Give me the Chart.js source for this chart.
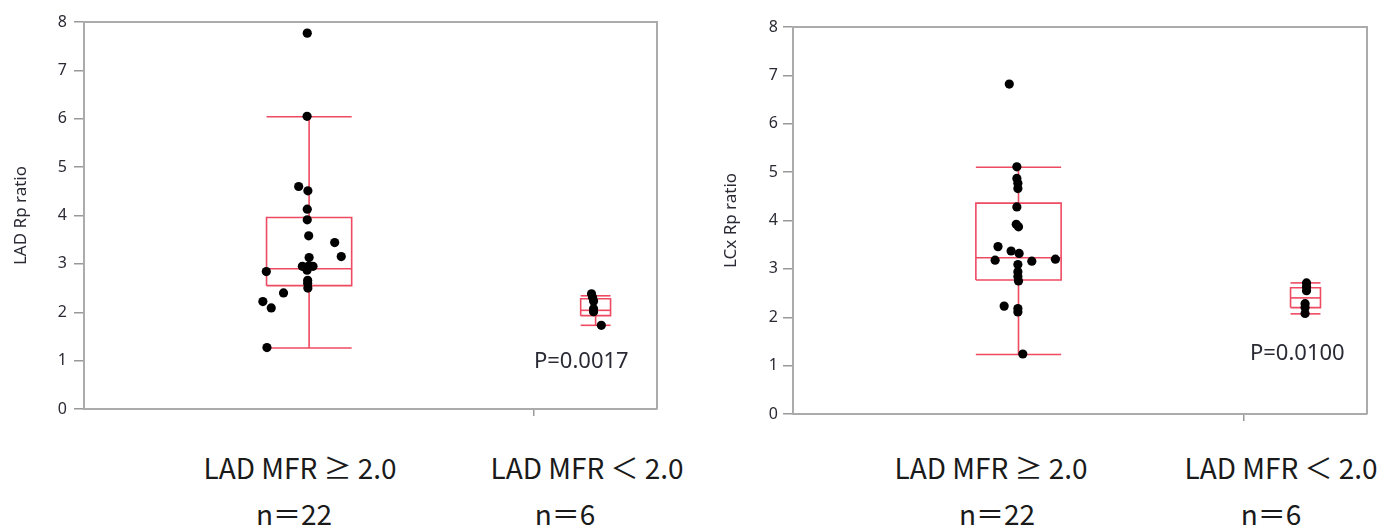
<!DOCTYPE html>
<html><head><meta charset="utf-8">
<script src="https://cdn.jsdelivr.net/npm/chart.js@4/dist/chart.umd.min.js"></script>
<style>
html,body{margin:0;padding:0;background:#fff;}
body{width:1399px;height:528px;position:relative;overflow:hidden;}
#c1{position:absolute;left:0;top:0;}
#c2{position:absolute;left:700px;top:0;}
.lbl{position:absolute;transform:translate(-50%,-50%);font-family:"Noto Sans CJK JP","Noto Sans",sans-serif;font-size:28px;color:#1a1a1a;white-space:nowrap;line-height:1;}
</style></head><body>
<canvas id="c1" width="700" height="430"></canvas>
<canvas id="c2" width="699" height="430"></canvas>
<script>
// ---------- data ----------
const groupLabels = ['LAD MFR ≥ 2.0', 'LAD MFR ＜ 2.0'];
const groupN = [22, 6];
const nLabels = ['n＝22', 'n＝6'];
const yTickValues = [0, 1, 2, 3, 4, 5, 6, 7, 8];

// LAD panel
const ladTitle = 'LAD Rp ratio';
const ladHigh = [7.77, 6.05, 4.60, 4.51, 4.13, 3.91, 3.58, 3.44, 3.15, 3.13, 2.95, 2.96, 2.95, 2.87, 2.84, 2.66, 2.60, 2.50, 2.40, 2.22, 2.09, 1.27];
const ladHighJitter = [-0.09, -0.10, -0.51, -0.06, -0.09, -0.09, -0.02, 1.25, 1.57, 0.00, -0.33, 0.00, 0.19, -0.10, -2.09, -0.07, -0.07, -0.06, -1.25, -2.26, -1.85, -2.06];
const ladLow = [2.38, 2.31, 2.23, 2.07, 2.01, 1.73];
const ladLowJitter = [-0.20, -0.15, -0.10, -0.10, -0.10, 0.28];
// [lower whisker, Q1, median, Q3, upper whisker]
const ladHighBox = [1.26, 2.55, 2.90, 3.96, 6.04];
const ladLowBox = [1.73, 1.93, 2.04, 2.28, 2.34];
const ladP = 'P=0.0017';

// LCx panel
const lcxTitle = 'LCx Rp ratio';
const lcxHigh = [6.82, 5.11, 4.87, 4.77, 4.66, 4.28, 3.92, 3.87, 3.46, 3.37, 3.32, 3.18, 3.16, 3.20, 3.09, 2.94, 2.84, 2.75, 2.23, 2.18, 2.11, 1.24];
const lcxHighJitter = [-0.45, -0.08, -0.08, -0.03, -0.03, -0.08, -0.11, 0.00, -1.00, -0.36, 0.03, -1.14, 0.65, 1.80, -0.03, -0.03, -0.03, 0.00, -0.70, -0.03, -0.03, 0.21];
const lcxLow = [2.71, 2.63, 2.55, 2.28, 2.20, 2.08];
const lcxLowJitter = [0.05, 0.05, 0.05, -0.02, -0.02, -0.02];
const lcxHighBox = [1.23, 2.77, 3.23, 4.36, 5.10];
const lcxLowBox = [2.07, 2.20, 2.40, 2.61, 2.71];
const lcxP = 'P=0.0100';

// ---------- styling / layout ----------
const BOX_HALF = [2.08, 0.73];
const RED = 'rgb(238,74,98)';
const FRAME = '#ababab';

const total = groupN.reduce((a, b) => a + b, 0);
const centers = groupN.map((n, i) => groupN.slice(0, i).reduce((a, b) => a + b, 0) + n / 2);
const divider = groupN[0];

function seg(pts) {
  return {
    type: 'scatter', data: pts, showLine: true, fill: false, tension: 0,
    pointRadius: 0, pointHoverRadius: 0, borderColor: RED, backgroundColor: RED,
    borderWidth: 1.6, order: 1
  };
}
function boxDatasets(stats, c, w) {
  const [lo, q1, med, q3, hi] = stats;
  return [
    seg([{x: c - w, y: q1}, {x: c + w, y: q1}, {x: c + w, y: q3}, {x: c - w, y: q3}, {x: c - w, y: q1}]),
    seg([{x: c - w, y: med}, {x: c + w, y: med}]),
    seg([{x: c, y: q3}, {x: c, y: hi}]),
    seg([{x: c, y: q1}, {x: c, y: lo}]),
    seg([{x: c - w, y: hi}, {x: c + w, y: hi}]),
    seg([{x: c - w, y: lo}, {x: c + w, y: lo}])
  ];
}
function pointDataset(vals, jit, c) {
  return {
    type: 'scatter', data: vals.map((v, i) => ({x: c + jit[i], y: v})),
    pointRadius: 4.6, pointHoverRadius: 4.6, backgroundColor: '#000', borderWidth: 0, order: 0
  };
}

const framePlugin = {
  id: 'frame',
  afterDraw(chart, args, opts) {
    const {ctx, chartArea: a, scales} = chart;
    ctx.save();
    ctx.strokeStyle = FRAME; ctx.lineWidth = 2;
    ctx.beginPath();
    ctx.moveTo(a.left, a.top); ctx.lineTo(a.right, a.top); ctx.lineTo(a.right, a.bottom);
    ctx.stroke();
    ctx.fillStyle = '#2a2a35';
    ctx.font = '22px "Noto Sans", sans-serif';
    ctx.textAlign = 'center'; ctx.textBaseline = 'middle';
    ctx.fillText(opts.text, scales.x.getPixelForValue(opts.x), scales.y.getPixelForValue(opts.y));
    ctx.restore();
  }
};

function makePanel(id, title, hi, hiJ, lo, loJ, hiBox, loBox, pText, pPos, lay) {
  const datasets = [
    pointDataset(hi, hiJ, centers[0]),
    pointDataset(lo, loJ, centers[1]),
    ...boxDatasets(hiBox, centers[0], BOX_HALF[0]),
    ...boxDatasets(loBox, centers[1], BOX_HALF[1])
  ];
  new Chart(document.getElementById(id), {
    type: 'scatter',
    data: {datasets},
    plugins: [framePlugin],
    options: {
      responsive: false, animation: false, events: [],
      layout: {padding: {left: 0, right: lay.right, top: lay.top, bottom: 0}},
      plugins: {legend: {display: false}, tooltip: {enabled: false},
        frame: {text: pText, x: pPos[0], y: pPos[1]}},
      scales: {
        x: {
          type: 'linear', min: 0, max: total,
          afterBuildTicks: s => { s.ticks = [{value: divider}]; },
          afterFit: s => { s.height = lay.xh; },
          ticks: {display: false},
          grid: {drawOnChartArea: false, drawTicks: true, tickLength: 7, color: '#999', lineWidth: 1.5},
          border: {display: true, color: FRAME, width: 2}
        },
        y: {
          type: 'linear', min: 0, max: 8,
          afterBuildTicks: s => { s.ticks = yTickValues.map(v => ({value: v})); },
          afterFit: s => { s.width = lay.yw; },
          ticks: {padding: lay.tp, color: '#2a2a35', font: {family: '"Noto Sans", sans-serif', size: 16}},
          grid: {drawOnChartArea: false, drawTicks: true, tickLength: 10, color: '#999', lineWidth: 1.5},
          border: {display: true, color: FRAME, width: 2},
          title: {display: true, text: title, color: '#2a2a35',
            font: {family: '"Noto Sans", sans-serif', size: 17}, padding: {top: lay.tt, bottom: 0}}
        }
      }
    }
  });
}

makePanel('c1', ladTitle, ladHigh, ladHighJitter, ladLow, ladLowJitter, ladHighBox, ladLowBox,
  ladP, [24.3, 0.98], {right: 43, top: 22, xh: 21, yw: 84, tp: 7, tt: 11});
makePanel('c2', lcxTitle, lcxHigh, lcxHighJitter, lcxLow, lcxLowJitter, lcxHighBox, lcxLowBox,
  lcxP, [24.6, 1.25], {right: 32, top: 27, xh: 16, yw: 93, tp: 5, tt: 21});

// bottom category labels
const labelSpots = [
  [300, 467, groupLabels[0]], [587, 467, groupLabels[1]],
  [294, 513, nLabels[0]], [565, 513, nLabels[1]],
  [991, 467, groupLabels[0]], [1281, 467, groupLabels[1]],
  [997, 513, nLabels[0]], [1271, 513, nLabels[1]]
];
labelSpots.forEach(([x, y, t]) => {
  const d = document.createElement('div');
  d.className = 'lbl'; d.textContent = t;
  d.style.left = x + 'px'; d.style.top = y + 'px';
  document.body.appendChild(d);
});
</script>
</body></html>
